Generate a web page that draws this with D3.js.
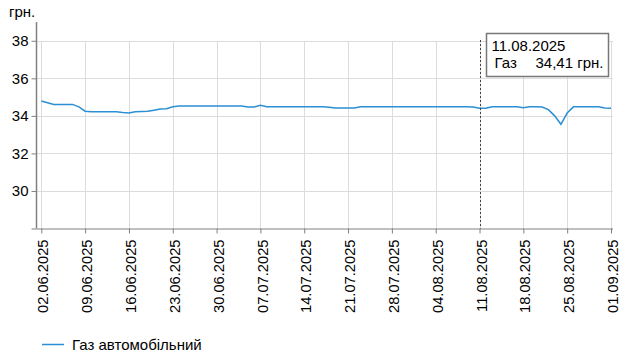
<!DOCTYPE html>
<html>
<head>
<meta charset="utf-8">
<script src="https://cdn.jsdelivr.net/npm/d3@7"></script>
<style>
  body { margin: 0; background: #fff; }
  svg text { font-family: "Liberation Sans", Arial, sans-serif; font-size: 15px; fill: #000; }
</style>
</head>
<body>
<svg id="chart" width="629" height="360"></svg>
<script>
'use strict';

// daily prices, 02.06.2025 .. 01.09.2025
const startDay = "02.06.2025";
const gasPrices = [
  34.79, 34.70, 34.61, 34.61, 34.61, 34.61, 34.48, 34.25, 34.22, 34.22,
  34.22, 34.22, 34.22, 34.18, 34.15, 34.22, 34.23, 34.24, 34.30, 34.36,
  34.38, 34.48, 34.52, 34.52, 34.52, 34.52, 34.52, 34.52, 34.52, 34.52,
  34.52, 34.52, 34.52, 34.47, 34.47, 34.56, 34.48, 34.48, 34.48, 34.48,
  34.48, 34.48, 34.48, 34.48, 34.48, 34.48, 34.46, 34.42, 34.42, 34.42,
  34.42, 34.48, 34.48, 34.48, 34.48, 34.48, 34.48, 34.48, 34.48, 34.48,
  34.48, 34.48, 34.48, 34.48, 34.48, 34.48, 34.48, 34.48, 34.48, 34.47,
  34.41, 34.41, 34.48, 34.48, 34.48, 34.48, 34.48, 34.43, 34.48, 34.48,
  34.47, 34.33, 34.00, 33.55, 34.15, 34.48, 34.48, 34.48, 34.48, 34.48,
  34.42, 34.41
];
const xTickLabels = [
  "02.06.2025", "09.06.2025", "16.06.2025", "23.06.2025", "30.06.2025",
  "07.07.2025", "14.07.2025", "21.07.2025", "28.07.2025", "04.08.2025",
  "11.08.2025", "18.08.2025", "25.08.2025", "01.09.2025"
];
const yTicks = [28, 30, 32, 34, 36, 38];
const seriesName = "Газ автомобільний";
const unit = "грн.";
const tipDate = "11.08.2025";
const tipValue = 34.41;

const parse = d3.timeParse("%d.%m.%Y");
const fmt = d3.timeFormat("%d.%m.%Y");
const day0 = parse(startDay);
const data = gasPrices.map((v, i) => ({ date: d3.timeDay.offset(day0, i), value: v }));

const svg = d3.select("#chart");
const plotL = 36.5, plotR = 613, plotT = 22, plotB = 228.5;

const x = d3.scaleTime()
  .domain([parse(xTickLabels[0]), parse(xTickLabels[xTickLabels.length - 1])])
  .range([41.3, 611]);
const y = d3.scaleLinear().domain([28, 39]).range([plotB, plotT]);

// grid
const grid = svg.append("g").attr("stroke", "#dcdcdc").attr("stroke-width", 1);
grid.selectAll("line.h")
  .data(yTicks.filter(t => t > 28))
  .enter().append("line")
  .attr("x1", plotL).attr("x2", plotR)
  .attr("y1", d => Math.round(y(d)) + 0.5).attr("y2", d => Math.round(y(d)) + 0.5);
grid.selectAll("line.v")
  .data(xTickLabels)
  .enter().append("line")
  .attr("x1", d => Math.round(x(parse(d))) + 0.5).attr("x2", d => Math.round(x(parse(d))) + 0.5)
  .attr("y1", Math.round(y(38)) + 0.5).attr("y2", plotB);

// x axis
const xAxis = d3.axisBottom(x)
  .tickValues(xTickLabels.map(parse))
  .tickFormat(fmt)
  .tickSize(5)
  .tickSizeOuter(0);
const gx = svg.append("g").attr("transform", `translate(0,${plotB})`).call(xAxis);
gx.select(".domain").attr("d", `M${plotL},0.5H${plotR}`).attr("stroke", "#808080");
gx.selectAll(".tick line").attr("stroke", "#808080");
gx.selectAll(".tick text")
  .attr("text-anchor", "end")
  .attr("transform", "rotate(-90)")
  .attr("x", -11)
  .attr("y", 0)
  .attr("dy", "0.45em")
  .style("font-size", "14.7px")
  .style("font-family", "Liberation Sans, Arial, sans-serif")
  .attr("fill", "#000");

// y axis
const yAxis = d3.axisLeft(y)
  .tickValues(yTicks)
  .tickFormat(d => d === 28 ? "" : d)
  .tickSize(5)
  .tickSizeOuter(0);
const gy = svg.append("g").attr("transform", `translate(${plotL},0)`).call(yAxis);
gy.select(".domain").attr("d", `M0,${plotT}V${plotB}`).attr("stroke", "#808080").attr("stroke-width", 1.5);
gy.selectAll(".tick line").attr("stroke", "#808080");
gy.selectAll(".tick text")
  .attr("x", -8)
  .style("font-size", "15px")
  .style("font-family", "Liberation Sans, Arial, sans-serif")
  .attr("fill", "#000");

svg.append("text").attr("x", 9).attr("y", 17).text(unit);

// series line
const line = d3.line().x(d => x(d.date)).y(d => y(d.value));
svg.append("path")
  .datum(data)
  .attr("fill", "none")
  .attr("stroke", "#2a8fd4")
  .attr("stroke-width", 1.5)
  .attr("d", line);

// hover marker + tooltip
const tx = Math.round(x(parse(tipDate))) + 0.5;
svg.append("line")
  .attr("x1", tx).attr("x2", tx)
  .attr("y1", 40).attr("y2", plotB)
  .attr("stroke", "#444")
  .attr("stroke-dasharray", "2,2");

const tip = svg.append("g").attr("transform", "translate(486.5,33.5)");
tip.append("rect")
  .attr("width", 122).attr("height", 43)
  .attr("fill", "#fff")
  .attr("stroke", "#777")
  .attr("stroke-width", 1.5);
tip.append("text").attr("x", 5).attr("y", 17.5).text(tipDate);
tip.append("text").attr("x", 8).attr("y", 34).text("Газ");
tip.append("text").attr("x", 49).attr("y", 34)
  .text(d3.format(".2f")(tipValue).replace(".", ",") + " " + unit);

// legend
const lg = svg.append("g").attr("transform", "translate(42,344.5)");
lg.append("line").attr("x1", 0).attr("x2", 22).attr("stroke", "#2a8fd4").attr("stroke-width", 1.5);
lg.append("text").attr("x", 30).attr("y", 5.5).text(seriesName);
</script>
</body>
</html>
